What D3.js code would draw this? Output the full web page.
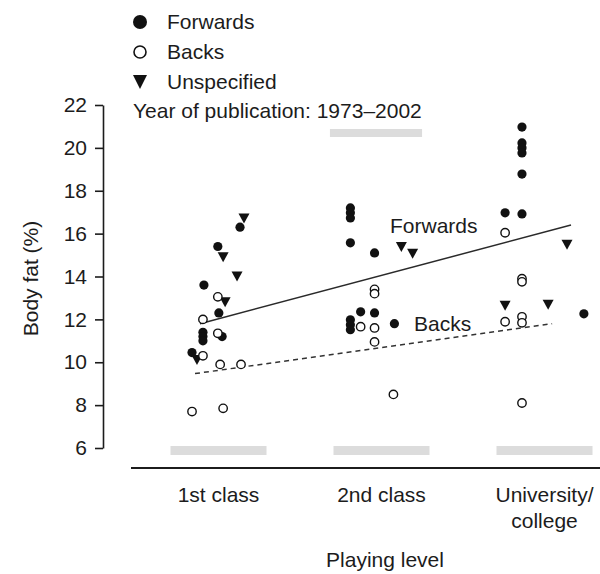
<!DOCTYPE html>
<html>
<head>
<meta charset="utf-8">
<script src="https://cdn.jsdelivr.net/npm/d3@7"></script>
<style>
  html, body { margin: 0; padding: 0; background: #fff; }
  svg { display: block; }
  text { font-family: "Liberation Sans", Arial, Helvetica, sans-serif; fill: #1c1c1c; }
</style>
</head>
<body>
<svg id="chart" width="600" height="574"></svg>
<script>
// Playing levels (x categories) and the y-axis ticks
const levels = ["1st class", "2nd class", "University/college"];
const levelLabels = [["1st class"], ["2nd class"], ["University/", "college"]];
const fatTicks = [6, 8, 10, 12, 14, 16, 18, 20, 22];
const yearRange = [1973, 2002];

// Each study: [level index, year of publication, body fat %]
const forwards = [
  [0, 1994.0, 16.3], [0, 1987.3, 15.4], [0, 1983.1, 13.6], [0, 1987.6, 12.3],
  [0, 1982.8, 11.4], [0, 1982.8, 11.2], [0, 1982.8, 11.0], [0, 1988.6, 11.2],
  [0, 1979.5, 10.45],
  [1, 1978.1, 17.2], [1, 1978.1, 16.97], [1, 1978.1, 16.73], [1, 1978.1, 15.57],
  [1, 1985.4, 15.1], [1, 1981.2, 12.35], [1, 1985.4, 12.3], [1, 1978.1, 11.98],
  [1, 1978.1, 11.75], [1, 1978.1, 11.52], [1, 1991.4, 11.8],
  [2, 1980.7, 20.97], [2, 1980.7, 20.23], [2, 1980.7, 20.0], [2, 1980.7, 19.76],
  [2, 1980.7, 18.78], [2, 1975.6, 16.97], [2, 1980.7, 16.92], [2, 1999.4, 12.26]
];
const backs = [
  [0, 1987.3, 13.05], [0, 1982.8, 12.0], [0, 1987.3, 11.35], [0, 1982.8, 10.3],
  [0, 1988.0, 9.9], [0, 1994.3, 9.9], [0, 1979.5, 7.7], [0, 1988.9, 7.85],
  [1, 1985.4, 13.4], [1, 1985.4, 13.2], [1, 1981.2, 11.66], [1, 1985.4, 11.6],
  [1, 1985.4, 10.95], [1, 1991.1, 8.5],
  [2, 1975.6, 16.04], [2, 1980.7, 13.9], [2, 1980.7, 13.75], [2, 1980.7, 12.12],
  [2, 1975.6, 11.89], [2, 1980.7, 11.84], [2, 1980.7, 8.1]
];
const unspecified = [
  [0, 1995.2, 16.7], [0, 1988.9, 14.9], [0, 1993.1, 14.0], [0, 1989.5, 12.8],
  [0, 1981.0, 10.1],
  [1, 1993.5, 15.38], [1, 1996.9, 15.06],
  [2, 1994.3, 15.48], [2, 1975.6, 12.63], [2, 1988.6, 12.68]
];

// Fitted trend lines: endpoints as [level index, year, body fat %]
const forwardsFit = [[0, 1981.9, 11.8], [2, 1995.5, 16.4]];
const backsFit = [[0, 1980.4, 9.47], [2, 1989.8, 11.8]];

const svg = d3.select("#chart");
const W = 600;
const ink = "#1c1c1c";
const FS = 21;

const y = d3.scaleLinear().domain([6, 22]).range([448, 105]);
const xLevel = d3.scalePoint().domain(d3.range(levels.length)).range([218.5, 544.5]);
const xYear = d3.scaleLinear().domain(yearRange).range([-48, 48]);
const px = d => xLevel(d[0]) + xYear(d[1]);
const py = d => y(d[2]);

// Year-span bars under each playing level, plus the key bar at the top
const barH = 9;
svg.append("g").selectAll("rect").data(d3.range(levels.length)).join("rect")
  .attr("x", i => xLevel(i) + xYear(yearRange[0]))
  .attr("width", xYear(yearRange[1]) - xYear(yearRange[0]))
  .attr("y", y(6) - 2)
  .attr("height", barH)
  .attr("fill", "#dcdcdc");

const keyCenter = 376;
svg.append("rect")
  .attr("x", keyCenter + xYear(yearRange[0]) * 0.96)
  .attr("width", (xYear(yearRange[1]) - xYear(yearRange[0])) * 0.96)
  .attr("y", 129).attr("height", barH - 1)
  .attr("fill", "#dcdcdc");

svg.append("text")
  .attr("x", 133).attr("y", 118)
  .attr("font-size", FS)
  .text(`Year of publication: ${yearRange[0]}\u2013${yearRange[1]}`);

// Y axis
const yAxis = svg.append("g")
  .attr("transform", "translate(103,0)")
  .call(d3.axisLeft(y).tickValues(fatTicks).tickSize(8).tickSizeOuter(0).tickPadding(8));
yAxis.select(".domain").attr("stroke", ink).attr("stroke-width", 1.6);
yAxis.selectAll(".tick line").attr("stroke", ink).attr("stroke-width", 1.6);
yAxis.selectAll(".tick text")
  .attr("font-size", FS)
  .attr("font-family", "Liberation Sans, Arial, sans-serif")
  .attr("fill", ink);

svg.append("text")
  .attr("transform", `translate(38,${(y(6) + y(22)) / 2 + 2}) rotate(-90)`)
  .attr("text-anchor", "middle")
  .attr("font-size", FS)
  .text("Body fat (%)");

// X axis baseline and category labels
svg.append("line")
  .attr("x1", 131).attr("x2", W)
  .attr("y1", 468).attr("y2", 468)
  .attr("stroke", ink).attr("stroke-width", 2);

const xLab = svg.append("g").selectAll("text").data(d3.range(levels.length)).join("text")
  .attr("x", i => xLevel(i))
  .attr("y", 502)
  .attr("text-anchor", "middle")
  .attr("font-size", FS);
xLab.selectAll("tspan").data(i => levelLabels[i]).join("tspan")
  .attr("x", function () { return d3.select(this.parentNode).attr("x"); })
  .attr("dy", (d, j) => j === 0 ? 0 : 26)
  .text(d => d);

svg.append("text")
  .attr("x", 385).attr("y", 567)
  .attr("text-anchor", "middle")
  .attr("font-size", FS)
  .text("Playing level");

// Trend lines
const fitLine = d3.line().x(px).y(py);
svg.append("path").datum(forwardsFit).attr("d", fitLine)
  .attr("fill", "none").attr("stroke", "#2a2a2a").attr("stroke-width", 1.5);
svg.append("path").datum(backsFit).attr("d", fitLine)
  .attr("fill", "none").attr("stroke", "#333").attr("stroke-width", 1.5)
  .attr("stroke-dasharray", "5,4");

svg.append("text").attr("x", 390).attr("y", 233).attr("font-size", FS).text("Forwards");
svg.append("text").attr("x", 414).attr("y", 331).attr("font-size", FS).text("Backs");

// Markers
const triPath = (w, h) => `M${-w / 2},${-h / 2}L${w / 2},${-h / 2}L0,${h / 2}Z`;

svg.append("g").selectAll("circle").data(forwards).join("circle")
  .attr("cx", px).attr("cy", py).attr("r", 4.6).attr("fill", "#111");

svg.append("g").selectAll("path").data(unspecified).join("path")
  .attr("transform", d => `translate(${px(d)},${py(d)})`)
  .attr("d", triPath(11, 10)).attr("fill", "#111");

svg.append("g").selectAll("circle").data(backs).join("circle")
  .attr("cx", px).attr("cy", py).attr("r", 4.2)
  .attr("fill", "#fff").attr("stroke", "#111").attr("stroke-width", 1.4);

// Legend
const legend = svg.append("g");
const legendRows = [
  { label: "Forwards", kind: "filled" },
  { label: "Backs", kind: "open" },
  { label: "Unspecified", kind: "tri" }
];
legendRows.forEach((r, i) => {
  const cy = 22 + i * 30;
  if (r.kind === "filled") {
    legend.append("circle").attr("cx", 140).attr("cy", cy).attr("r", 7).attr("fill", "#111");
  } else if (r.kind === "open") {
    legend.append("circle").attr("cx", 140).attr("cy", cy).attr("r", 6)
      .attr("fill", "#fff").attr("stroke", "#111").attr("stroke-width", 1.6);
  } else {
    legend.append("path").attr("transform", `translate(140,${cy})`)
      .attr("d", triPath(14, 14)).attr("fill", "#111");
  }
  legend.append("text").attr("x", 167).attr("y", cy + 7)
    .attr("font-size", FS).text(r.label);
});
</script>
</body>
</html>
